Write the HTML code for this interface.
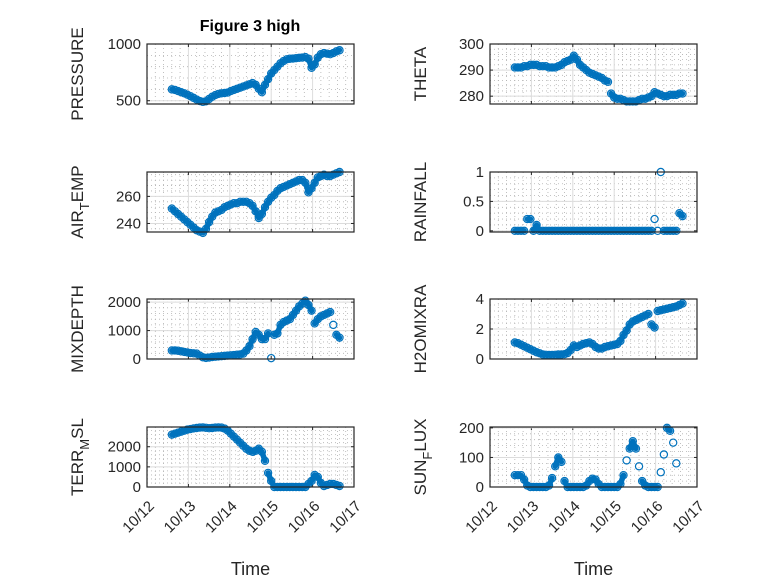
<!DOCTYPE html>
<html><head><meta charset="utf-8"><style>
body{margin:0;background:#fff}
svg{display:block;font-family:"Liberation Sans",sans-serif}
</style></head><body>
<svg id="fig" width="778" height="583" viewBox="0 0 778 583"></svg>
<script>
const times=[0.6,0.675,0.75,0.825,0.9,0.975,1.05,1.125,1.2,1.275,1.35,1.425,1.5,1.575,1.65,1.725,1.8,1.875,1.95,2.025,2.1,2.175,2.25,2.325,2.4,2.475,2.55,2.625,2.7,2.775,2.85,2.925,3.0,3.075,3.15,3.225,3.3,3.375,3.45,3.525,3.6,3.675,3.75,3.825,3.9,3.975,4.05,4.125,4.2,4.275,4.35,4.425,4.5,4.575,4.65];
const pressure=[600,595,585,575,565,553,540,525,510,497,490,495,515,535,550,560,565,568,572,585,595,605,615,625,635,645,655,640,605,575,640,690,740,770,800,830,850,865,870,872,875,878,880,885,870,790,820,880,910,920,915,910,920,935,945];
const airTemp=[251,249,247,245,243,241,239,237,235,234,233,236,241,245,248,249,250,252,253,254,255,255,256,256,256,255,253,249,244,247,252,256,259,261,264,266,267,268,269,270,271,272,272,270,263,266,270,274,275,276,275,275,276,277,278];
const mixDepth=[300,300,290,270,250,230,210,200,190,120,60,40,50,70,80,90,100,110,120,130,140,150,160,190,300,450,700,950,850,700,700,900,30,850,900,1200,1300,1350,1400,1550,1700,1850,1950,2050,1900,1700,1250,1400,1500,1550,1600,1650,1200,850,750];
const terrMsl=[2600,2650,2700,2750,2800,2850,2880,2910,2930,2950,2960,2940,2920,2930,2950,2960,2950,2900,2800,2650,2500,2350,2200,2050,1900,1800,1750,1800,1900,1750,1300,700,300,0,0,0,0,0,0,0,0,0,0,0,150,300,600,500,200,50,100,150,150,100,50];
const theta=[291,291,291,291.5,291.5,292,292,292,291.5,291.5,291.5,291,291,291,291.5,292,293,293.5,294,295.5,294,292,291,290,289,288.5,288,287.5,287,286,285.5,281,279.5,279,279,278.5,278,278,278,278,278.5,279,279,279.5,280,281.5,281,280.5,280,280,280.5,280.5,280.5,281,281];
const rainfall=[0,0,0,0,0.2,0.2,0,0.1,0,0,0,0,0,0,0,0,0,0,0,0,0,0,0,0,0,0,0,0,0,0,0,0,0,0,0,0,0,0,0,0,0,0,0,0,0,0.2,0,1.0,0,0,0,0,0,0.3,0.25];
const h2oMix=[1.1,1.05,0.95,0.85,0.75,0.65,0.55,0.45,0.38,0.3,0.28,0.27,0.27,0.28,0.3,0.3,0.32,0.4,0.6,0.9,0.8,0.9,1.0,1.05,1.1,1.0,0.8,0.7,0.7,0.8,0.85,0.9,0.95,1.0,1.2,1.6,1.9,2.3,2.5,2.6,2.7,2.8,2.9,3.0,2.3,2.1,3.2,3.25,3.3,3.35,3.4,3.45,3.5,3.6,3.7];
const sunFlux=[40,40,40,25,5,0,0,0,0,0,0,5,30,70,100,85,20,0,0,0,0,0,0,5,20,28,25,10,0,0,0,0,0,0,10,40,90,130,155,130,70,20,5,0,0,0,0,50,110,200,190,150,80,null,null];
const dayTicks=[12,13,14,15,16,17];
const dayLabels=["10/12","10/13","10/14","10/15","10/16","10/17"];

const NS="http://www.w3.org/2000/svg";
const svg=document.getElementById('fig');
function mk(tag,attrs,parent){const e=document.createElementNS(NS,tag);for(const k in attrs)e.setAttribute(k,attrs[k]);(parent||svg).appendChild(e);return e;}

const panels=[
 {name:'pressure',data:pressure,x0:147,y0:44,lim:[471,1000],ticks:[500,1000],label:['PRESSURE'],bottom:false},
 {name:'theta',data:theta,x0:490,y0:44,lim:[277,300],ticks:[280,290,300],label:['THETA'],bottom:false},
 {name:'air-temp',data:airTemp,x0:147,y0:172,lim:[233.7,278],ticks:[240,260],label:['AIR','T','EMP'],bottom:false},
 {name:'rainfall',data:rainfall,x0:490,y0:172,lim:[-0.02,1],ticks:[0,0.5,1],label:['RAINFALL'],bottom:false},
 {name:'mixdepth',data:mixDepth,x0:147,y0:299,lim:[0,2110],ticks:[0,1000,2000],label:['MIXDEPTH'],bottom:false},
 {name:'h2omixra',data:h2oMix,x0:490,y0:299,lim:[0,4],ticks:[0,2,4],label:['H2OMIXRA'],bottom:false},
 {name:'terr-msl',data:terrMsl,x0:147,y0:427,lim:[0,2980],ticks:[0,1000,2000],label:['TERR','M','SL'],bottom:true},
 {name:'sun-flux',data:sunFlux,x0:490,y0:427,lim:[0,203],ticks:[0,100,200],label:['SUN','F','LUX'],bottom:true}
];
const W=207,H=60;

panels.forEach(p=>{
  const g=mk('g',{});
  
  
  const xs=d=>p.x0+(d-12)/5*W;
  const ys=v=>p.y0+H-(v-p.lim[0])/(p.lim[1]-p.lim[0])*H;
  mk('rect',{x:p.x0,y:p.y0,width:W,height:H,fill:'#fff'},g);
  for(let d=12;d<17;d++)for(let k=1;k<5;k++){const x=xs(d+k/5);mk('line',{x1:x,x2:x,y1:p.y0,y2:p.y0+H,stroke:'#b0b0b0','stroke-width':0.8,'stroke-dasharray':'1 3'},g);}
  const step=p.ticks[1]-p.ticks[0];
  for(let v=p.ticks[0]-step;v<=p.lim[1]+1e-9;v+=step/5){if(v<p.lim[0])continue;const y=ys(v);mk('line',{x1:p.x0,x2:p.x0+W,y1:y,y2:y,stroke:'#b0b0b0','stroke-width':0.8,'stroke-dasharray':'1 3'},g);}
  dayTicks.forEach(d=>{const x=xs(d);mk('line',{x1:x,x2:x,y1:p.y0,y2:p.y0+H,stroke:'#dcdcdc','stroke-width':1},g);mk('line',{x1:x,x2:x,y1:p.y0+H,y2:p.y0+H-3,stroke:'#262626'},g);mk('line',{x1:x,x2:x,y1:p.y0,y2:p.y0+3,stroke:'#262626'},g);});
  p.ticks.forEach(v=>{const y=ys(v);mk('line',{x1:p.x0,x2:p.x0+W,y1:y,y2:y,stroke:'#dcdcdc','stroke-width':1},g);
    mk('line',{x1:p.x0,x2:p.x0+3,y1:y,y2:y,stroke:'#262626'},g);mk('line',{x1:p.x0+W,x2:p.x0+W-3,y1:y,y2:y,stroke:'#262626'},g);
    const t=mk('text',{x:p.x0-6,y:y+5,'text-anchor':'end','font-size':15,fill:'#262626'},g);t.textContent=String(v);
    
    });
  let dstr='';let prev=null;
  p.data.forEach((v,i)=>{if(v===null){prev=null;return;}const x=xs(12+times[i]),y=ys(v);
    if(prev&&Math.hypot(x-prev[0],y-prev[1])<10){dstr+=`L${x.toFixed(1)} ${y.toFixed(1)}`;}else{dstr+=`M${x.toFixed(1)} ${y.toFixed(1)}`;}
    prev=[x,y];});
  const band=mk('path',{d:dstr,fill:'none',stroke:'#0072BD','stroke-width':5.5,'stroke-linecap':'round','stroke-linejoin':'round'},g);
  
  
  p.data.forEach((v,i)=>{if(v===null)return;const c=mk('circle',{cx:xs(12+times[i]),cy:ys(v),r:3.6,fill:'none',stroke:'#0072BD','stroke-width':1.2},g);
    
    });
  mk('rect',{x:p.x0,y:p.y0,width:W,height:H,fill:'none',stroke:'#262626','stroke-width':1.2},g);
  const lx=p.x0-70, ly=p.y0+H/2;
  const yl=mk('text',{x:0,y:0,transform:`translate(${lx+6},${ly}) rotate(-90)`,'text-anchor':'middle','font-size':17,fill:'#262626'},g);
  
  
  if(p.label.length===1){yl.textContent=p.label[0];}
  else{const a=mk('tspan',{},yl);a.textContent=p.label[0];
    const b=mk('tspan',{dy:6,'font-size':13},yl);b.textContent=p.label[1];
    const c=mk('tspan',{dy:-6},yl);c.textContent=p.label[2];}
  if(p.bottom){
    dayTicks.forEach((d,i)=>{const x=xs(d);const t=mk('text',{x:0,y:0,transform:`translate(${x+8},${p.y0+H+20}) rotate(-45)`,'text-anchor':'end','font-size':15,fill:'#262626'},g);t.textContent=dayLabels[i];
      
      });
    const xl=mk('text',{x:p.x0+W/2,y:575,'text-anchor':'middle','font-size':18,fill:'#262626'},g);xl.textContent='Time';
    
    
  }
});
const title=mk('text',{x:250,y:31,'text-anchor':'middle','font-size':16,'font-weight':'bold',fill:'#000'});
title.textContent='Figure 3 high';


</script>
</body></html>
